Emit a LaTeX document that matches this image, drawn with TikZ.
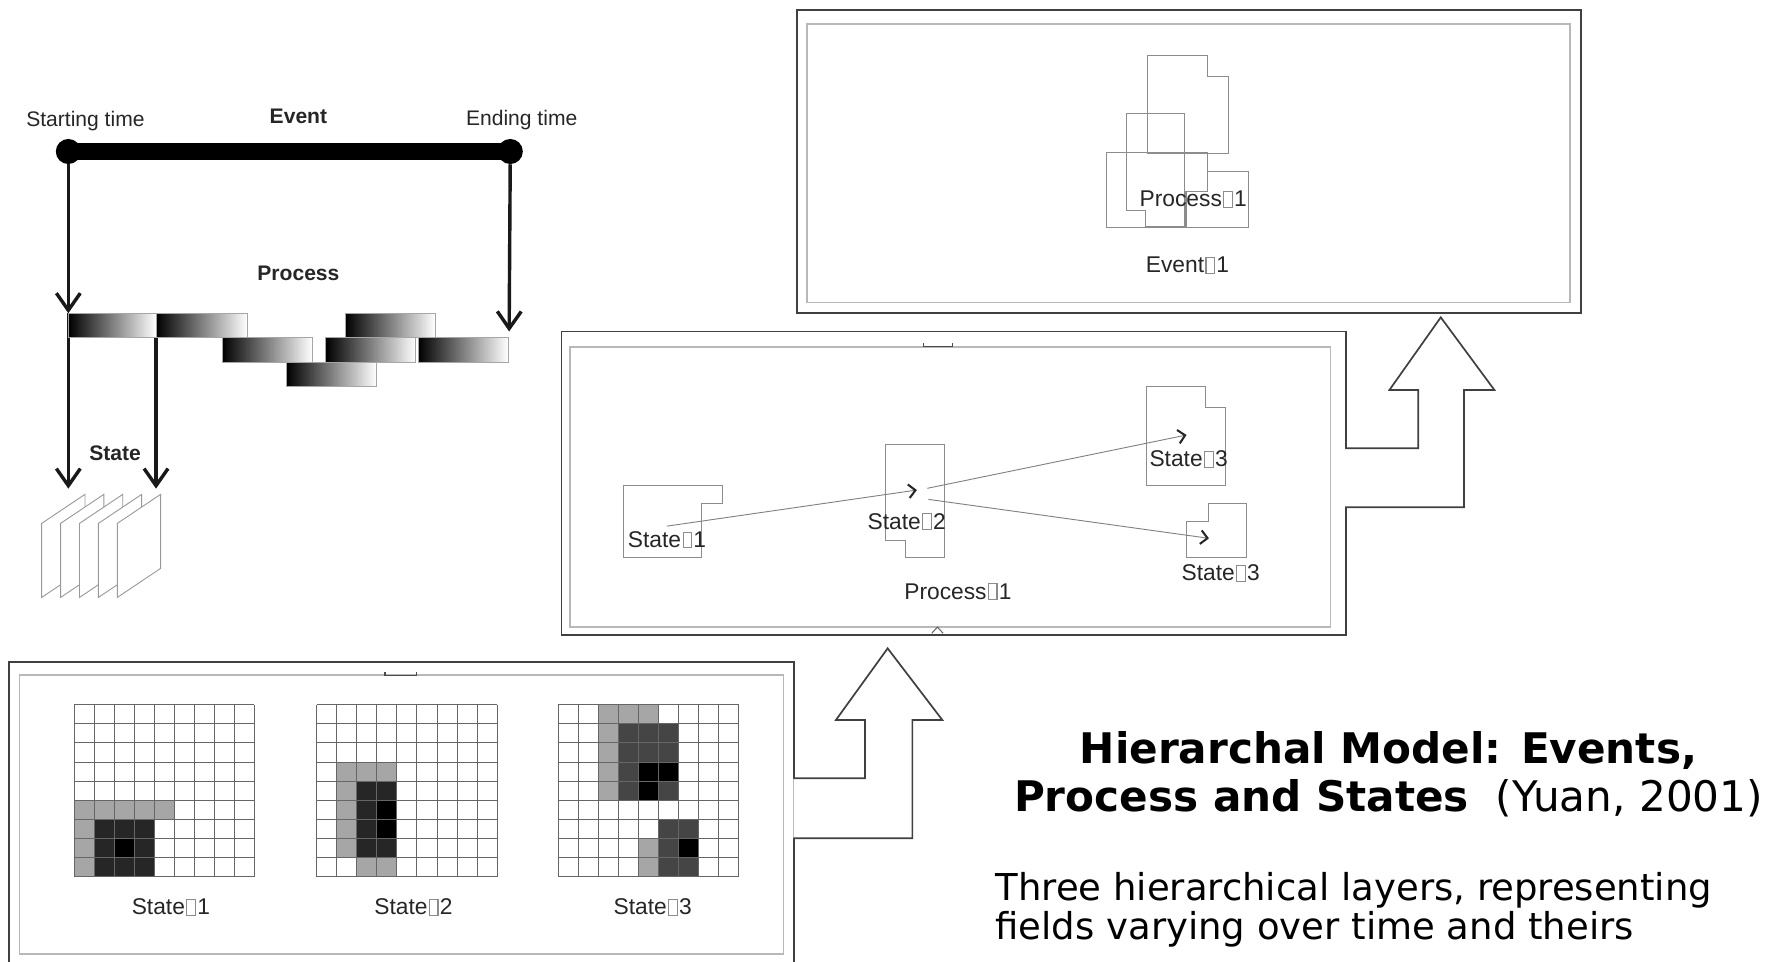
\documentclass[tikz,border=0pt]{standalone}
\usepackage{fontspec}
\setmainfont{Liberation Sans}
\newfontfamily\dejavu{DejaVu Sans}
\usetikzlibrary{arrows.meta}
\newcommand{\tofu}{\textcolor{black!45}{\kern0.06em\fboxsep=0pt\fboxrule=0.05em\fbox{\rule{0pt}{0.64em}\rule{0.32em}{0pt}}\kern0.06em}}

\begin{document}
\begin{tikzpicture}[x=1pt,y=-1pt,
  outerbox/.style={draw=black!75, line width=1.6},
  innerbox/.style={draw=black!28, line width=1.4},
  region/.style={draw=black!45, line width=0.8},
  lbl/.style={font=\fontsize{20}{24}\selectfont, text=black!85, inner sep=0},
  toplbl/.style={font=\fontsize{18.5}{22}\selectfont, text=black!85, inner sep=0},
  procbar/.style={shade, left color=black, right color=white, draw=black!35, line width=0.6,
    inner sep=0, outer sep=0, minimum height=21.5, minimum width=79},
  thickarrow/.style={draw=black!90, line width=3, -{Straight Barb[length=15pt,width=21pt]}},
  thinarrow/.style={draw=black!50, line width=0.8,
    -{Straight Barb[length=6pt,width=12pt,line width=1.8pt,color=black!85]}},
  blockarrow/.style={draw=black!75, line width=1.5, fill=white},
  sheet/.style={draw=black!40, line width=0.8, fill=white},
  gridline/.style={draw=black!60, line width=0.7},
  lightcell/.style={fill=black!35},
  darkcell/.style={fill=black!85},
  midcell/.style={fill=black!73},
  blackcell/.style={fill=black}]

\useasboundingbox (0,0) rectangle (1568,844);
\clip (0,0) rectangle (1568,844);

% event - process - state sketch
\node[circle, fill=black, inner sep=0, minimum size=22] (sdot) at (60,133) {};
\node[circle, fill=black, inner sep=0, minimum size=22] (edot) at (448,133) {};
\draw[line width=15, black] (sdot.center) -- (edot.center);
\node[toplbl] (stlbl) at (75,106) {Starting time};
\node[toplbl, font=\fontsize{18.5}{22}\selectfont\bfseries] (evlbl) at (262,102) {Event};
\node[toplbl] (enlbl) at (458,105) {Ending time};
\node[toplbl, font=\fontsize{18.5}{22}\selectfont\bfseries] (prlbl) at (262,240) {Process};
\node[toplbl, font=\fontsize{18.5}{22}\selectfont\bfseries] (salbl) at (101,398) {State};

\coordinate (p1) at (60,275);
\coordinate (p2) at (137,296);
\coordinate (ptip) at (447,291);
\coordinate (st1) at (60,429);
\coordinate (st2) at (137,429);

\foreach \i in {0,...,4}
  \draw[sheet] (36.6+\i*16.6,459.5) -- ++(38,-25.5) -- ++(0,65) -- ++(-38,25.5) -- cycle;

\draw[thickarrow] (sdot) -- (p1);
\draw[thickarrow] (p1) -- (st1);
\draw[thickarrow] (p2) -- (st2);
\draw[thickarrow] (edot) -- (ptip);

\node[procbar, minimum width=77] (b1) at (98.5,285.75) {};
\node[procbar, minimum width=80] (b2) at (177,285.75) {};
\node[procbar] (b3) at (342.5,285.75) {};
\node[procbar] (b4) at (234.5,307.25) {};
\node[procbar] (b5) at (325.5,307.25) {};
\node[procbar] (b6) at (406.5,307.25) {};
\node[procbar] (b7) at (291,328.75) {};

% event layer
\draw[outerbox] (700,8.8) rectangle (1388.2,275);
\draw[innerbox] (708.7,21) rectangle (1378.1,265.4);
\draw[region] (1007.6,48.3) -- (1060,48.3) -- (1060,66.7) -- (1078.3,66.7) -- (1078.3,135) -- (1007.6,135) -- cycle;
\draw[region] (989.2,99.5) -- (1039.8,99.5) -- (1039.8,199) -- (1005.3,199) -- (1005.3,185) -- (989.2,185) -- cycle;
\draw[region] (971.8,134) -- (1060,134) -- (1060,167.7) -- (1041.6,167.7) -- (1041.6,199.6) -- (971.8,199.6) -- cycle;
\draw[region] (1060,150.7) -- (1095.9,150.7) -- (1095.9,199.6) -- (1040.7,199.6) -- (1040.7,167.7);
\node[lbl] (ev1proc) at (1047.6,175) {Process\tofu 1};
\node[lbl] (ev1) at (1042.5,233.2) {Event\tofu 1};

% process layer
\draw[outerbox] (493,291) rectangle (1181.5,557.5);
\draw[innerbox] (500.6,304.4) rectangle (1168,550.2);
\draw[black!70, line width=1] (811,301) -- (811,304.4) -- (836,304.4) -- (836,301);
\draw[black!60, line width=0.9] (818,556) -- (823,550.5) -- (828,556);
\draw[region] (547.7,425.8) -- (634,425.8) -- (634,441.9) -- (616.2,441.9) -- (616.2,489.6) -- (547.7,489.6) -- cycle;
\draw[region] (777.4,390) -- (829,390) -- (829,489.6) -- (795,489.6) -- (795,474.1) -- (777.4,474.1) -- cycle;
\draw[region] (1006.8,338.9) -- (1058.3,338.9) -- (1058.3,357.6) -- (1076.2,357.6) -- (1076.2,426.4) -- (1006.8,426.4) -- cycle;
\draw[region] (1060.6,441.9) -- (1094.1,441.9) -- (1094.1,489.3) -- (1041.3,489.3) -- (1041.3,458) -- (1060.6,458) -- cycle;
\node[lbl] (ps1) at (585.6,474) {State\tofu 1};
\node[lbl] (ps2) at (796,458) {State\tofu 2};
\node[lbl] (ps3a) at (1043.5,403.3) {State\tofu 3};
\node[lbl] (ps3b) at (1071.7,503.4) {State\tofu 3};
\node[lbl] (proc1) at (841,519.5) {Process\tofu 1};
\coordinate (a1from) at (585.6,461.9);
\coordinate (a1to) at (805,430.2);
\coordinate (a2from) at (814.1,428.7);
\coordinate (a2to) at (1041.7,381.9);
\coordinate (a3from) at (815,438.4);
\coordinate (a3to) at (1061.4,472.6);
\draw[thinarrow] (a1from) -- (a1to);
\draw[thinarrow] (a2from) -- (a2to);
\draw[thinarrow] (a3from) -- (a3to);

% state layer
\draw[outerbox] (8,850) -- (8,581) -- (697,581) -- (697,850);
\draw[innerbox] (17,592.6) rectangle (688,837.6);
\draw[black!70, line width=1] (338,590) -- (338,593) -- (366,593) -- (366,590);

\foreach \c/\r in {0/5,1/5,2/5,3/5,4/5,0/6,0/7,0/8}
  \fill[lightcell] (65+\c*17.6,618.5+\r*16.8) rectangle ++(17.6,16.8);
\foreach \c/\r in {1/6,2/6,3/6,1/7,3/7,1/8,2/8,3/8}
  \fill[darkcell] (65+\c*17.6,618.5+\r*16.8) rectangle ++(17.6,16.8);
\fill[blackcell] (65+2*17.6,618.5+7*16.8) rectangle ++(17.6,16.8);

\foreach \c/\r in {1/3,2/3,3/3,1/4,1/5,1/6,1/7,2/8,3/8}
  \fill[lightcell] (278+\c*17.6,618.5+\r*16.8) rectangle ++(17.6,16.8);
\foreach \c/\r in {2/4,3/4,2/5,2/6,2/7,3/7}
  \fill[darkcell] (278+\c*17.6,618.5+\r*16.8) rectangle ++(17.6,16.8);
\foreach \c/\r in {3/5,3/6}
  \fill[blackcell] (278+\c*17.6,618.5+\r*16.8) rectangle ++(17.6,16.8);

\foreach \c/\r in {2/0,3/0,4/0,2/1,2/2,2/3,2/4,4/7,4/8}
  \fill[lightcell] (490+\c*17.6,618.5+\r*16.8) rectangle ++(17.6,16.8);
\foreach \c/\r in {3/1,4/1,5/1,3/2,4/2,5/2,3/3,3/4,5/4,5/6,6/6,5/7,5/8,6/8}
  \fill[midcell] (490+\c*17.6,618.5+\r*16.8) rectangle ++(17.6,16.8);
\foreach \c/\r in {4/3,5/3,4/4,6/7}
  \fill[blackcell] (490+\c*17.6,618.5+\r*16.8) rectangle ++(17.6,16.8);

\foreach \gx in {65,278,490}
  \foreach \i in {0,...,9} {
    \draw[gridline] (\gx+\i*17.6,618.5) -- ++(0,151.2);
    \draw[gridline] (\gx,618.5+\i*16.8) -- ++(158.4,0);
  }
\node[lbl] (g1) at (150,796.5) {State\tofu 1};
\node[lbl] (g2) at (363,796.5) {State\tofu 2};
\node[lbl] (g3) at (573,796.5) {State\tofu 3};

% arrows between layers
\draw[blockarrow] (696.5,683.3) -- (759.4,683.3) -- (759.4,632.1) -- (733.9,632.1) -- (779.3,569.2)
  -- (827.3,632.1) -- (801,632.1) -- (801,736) -- (696.5,736);
\draw[blockarrow] (1180.9,393.6) -- (1245.2,393.6) -- (1245.2,342.4) -- (1219.8,342.4) -- (1264.9,278.6)
  -- (1312,342.4) -- (1285.3,342.4) -- (1285.3,445.4) -- (1180.9,445.4);

% caption
\node[anchor=base, font=\dejavu\fontsize{37}{44}\selectfont\bfseries, inner sep=0] (title1) at (1219,670) {Hierarchal Model: Events,};
\node[anchor=base, font=\dejavu\fontsize{37}{44}\selectfont, inner sep=0] (title2) at (1219,712.6) {\textbf{Process and States}\ \ (Yuan, 2001)};
\node[anchor=base west, font=\dejavu\fontsize{32.5}{36}\selectfont, inner sep=0] (body1) at (873.8,790.2) {Three hierarchical layers, representing};
\node[anchor=base west, font=\dejavu\fontsize{32.5}{36}\selectfont, inner sep=0] (body2) at (873.8,825) {fields varying over time and theirs};
\end{tikzpicture}
\end{document}
